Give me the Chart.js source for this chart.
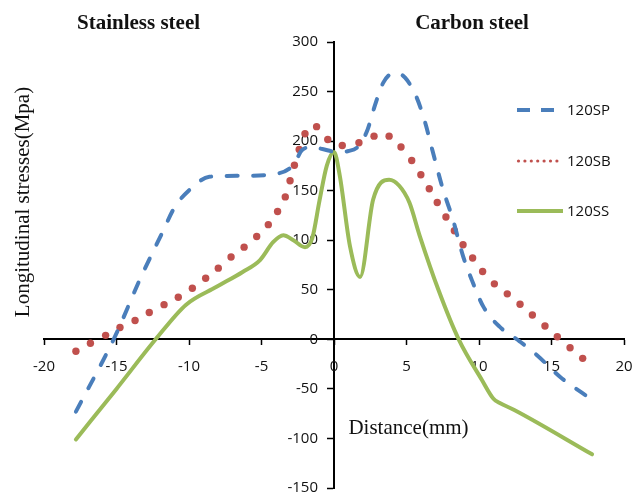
<!DOCTYPE html>
<html>
<head>
<meta charset="utf-8">
<title>Longitudinal stresses</title>
<script src="https://cdn.jsdelivr.net/npm/chart.js@4.4.1/dist/chart.umd.min.js"></script>
<style>
  html, body { margin: 0; padding: 0; background: #ffffff; }
  canvas { display: block; }
</style>
</head>
<body>
<canvas id="chart" width="644" height="498"></canvas>
<script>
// Distance (mm) / longitudinal stress (MPa) pairs for each weld specimen
const spDistance = [-17.8, -15.1, -13.4, -11.8, -11.0, -9.8, -8.6, -6.5, -4.0, -2.8, -2.2, -1.5, -0.8, 0.2, 1.0, 1.7, 2.3, 2.8, 3.4, 4.2, 4.9, 5.7, 6.3, 6.8, 7.5, 8.2, 8.9, 9.5, 10.3, 11.4, 12.8, 14.0, 15.6, 17.8];
const spStress   = [-73, 3, 60, 109, 133, 153, 164, 165, 167, 176, 191, 194, 192, 189, 190, 195, 211, 235, 259, 269, 264, 244, 218, 190, 152, 121, 84, 60, 33, 13, -2, -16, -38, -61];

const sbDistance = [-17.8, -16.8, -15.75, -14.76, -13.72, -12.74, -11.72, -10.74, -9.77, -8.85, -7.98, -7.1, -6.2, -5.33, -4.53, -3.89, -3.36, -3.03, -2.73, -2.4, -2.0, -1.2, -0.43, 0.57, 1.72, 2.76, 3.8, 4.62, 5.36, 5.99, 6.57, 7.12, 7.72, 8.3, 8.9, 9.56, 10.25, 11.06, 11.95, 12.83, 13.68, 14.55, 15.4, 16.28, 17.15];
const sbStress   = [-12, -4, 4, 12, 19, 27, 35, 42.5, 51.6, 61.7, 71.8, 83, 93, 103.8, 115.7, 129, 143.7, 160, 175.7, 191.6, 207.5, 214.6, 201.7, 195.6, 198.4, 205, 205, 194, 180.5, 166, 152, 138, 123.5, 109.6, 95.4, 82, 68.4, 56, 45.9, 35.4, 24.6, 13.5, 2.6, -8.5, -19.2];

const ssDistance = [-17.8, -15.0, -12.3, -10.2, -8.1, -6.3, -5.1, -4.2, -3.5, -2.8, -2.0, -1.5, -1.0, -0.5, 0.0, 0.4, 1.1, 1.8, 2.7, 3.8, 4.5, 5.2, 5.9, 7.2, 8.6, 10.2, 11.0, 11.4, 12.4, 17.8];
const ssStress   = [-101, -50, 0, 35, 53, 68, 80, 98, 105, 100, 93, 102, 140, 175, 189, 165, 94, 63, 141, 161, 155, 138, 105, 50, 0, -41, -60, -64, -71, -116];

const seriesNames = ['120SP', '120SB', '120SS'];
const xTicks = { min: -20, max: 20, step: 5 };
const yTicks = { min: -150, max: 300, step: 50 };

const BLUE = '#4A7EBB';
const RED = '#C0504D';
const GREEN = '#9BBB59';

function pairs(xs, ys) {
  return xs.map((x, i) => ({ x: x, y: ys[i] }));
}

const TICK_FONT = '15px "Open Sans", "Liberation Sans", sans-serif';

// Tick labels sit beside the crossing axes, under the data lines
const tickLabels = {
  id: 'tickLabels',
  beforeDatasetsDraw(chart) {
    const ctx = chart.ctx;
    const xs = chart.scales.x;
    const ys = chart.scales.y;
    const xAxisY = ys.getPixelForValue(0);
    const yAxisX = xs.getPixelForValue(0);
    ctx.save();
    ctx.font = TICK_FONT;
    ctx.fillStyle = '#111111';
    ctx.textBaseline = 'middle';
    ctx.textAlign = 'center';
    xs.ticks.forEach(t => {
      ctx.fillText(String(t.value), xs.getPixelForValue(t.value), xAxisY + 27);
    });
    ctx.textAlign = 'right';
    ys.ticks.forEach(t => {
      ctx.fillText(String(t.value), yAxisX - 16, ys.getPixelForValue(t.value));
    });
    ctx.restore();
  }
};

// Headings, axis titles and the legend drawn on top of the plot
const annotations = {
  id: 'annotations',
  afterDraw(chart) {
    const ctx = chart.ctx;
    ctx.save();
    ctx.fillStyle = '#111111';
    ctx.textBaseline = 'alphabetic';
    ctx.textAlign = 'center';

    ctx.font = 'bold 21px "Liberation Serif", "Times New Roman", serif';
    ctx.fillText('Stainless steel', 138.5, 29);
    ctx.fillText('Carbon steel', 472, 29);

    ctx.font = '21px "Liberation Serif", "Times New Roman", serif';
    ctx.fillText('Distance(mm)', 408.5, 434);

    ctx.save();
    ctx.translate(29, 202);
    ctx.rotate(-Math.PI / 2);
    ctx.fillText('Longitudinal stresses(Mpa)', 0, 0);
    ctx.restore();

    // legend
    const ds = chart.data.datasets;
    const rows = [110, 161, 211];
    const x0 = 517;
    ctx.font = TICK_FONT;
    ctx.textAlign = 'left';
    ctx.textBaseline = 'middle';

    // dashed
    ctx.strokeStyle = ds[0].borderColor;
    ctx.lineWidth = 4;
    ctx.lineCap = 'butt';
    ctx.setLineDash([13, 11]);
    ctx.beginPath();
    ctx.moveTo(x0, rows[0]);
    ctx.lineTo(x0 + 38, rows[0]);
    ctx.stroke();
    ctx.setLineDash([]);

    // dotted
    ctx.fillStyle = ds[1].pointBackgroundColor;
    for (let i = 0; i < 7; i++) {
      ctx.beginPath();
      ctx.arc(x0 + 1.5 + i * 6.4, rows[1], 1.6, 0, Math.PI * 2);
      ctx.fill();
    }

    // solid
    ctx.strokeStyle = ds[2].borderColor;
    ctx.beginPath();
    ctx.moveTo(x0, rows[2]);
    ctx.lineTo(x0 + 46, rows[2]);
    ctx.stroke();

    ctx.fillStyle = '#111111';
    ds.forEach((d, i) => ctx.fillText(d.label, 567, rows[i] + 1));
    ctx.restore();
  }
};

new Chart(document.getElementById('chart'), {
  type: 'line',
  data: {
    datasets: [
      {
        label: seriesNames[0],
        data: pairs(spDistance, spStress),
        borderColor: BLUE,
        borderWidth: 4,
        borderDash: [11, 15.5],
        borderCapStyle: 'round',
        cubicInterpolationMode: 'monotone',
        pointRadius: 0,
        fill: false
      },
      {
        label: seriesNames[1],
        data: pairs(sbDistance, sbStress),
        showLine: false,
        pointRadius: 3.7,
        pointBorderWidth: 0,
        pointBackgroundColor: RED,
        borderColor: RED,
        fill: false
      },
      {
        label: seriesNames[2],
        data: pairs(ssDistance, ssStress),
        borderColor: GREEN,
        borderWidth: 4,
        borderCapStyle: 'round',
        cubicInterpolationMode: 'monotone',
        pointRadius: 0,
        fill: false
      }
    ]
  },
  options: {
    responsive: false,
    animation: false,
    devicePixelRatio: 1,
    layout: { padding: { left: 44, right: 20, top: 42, bottom: 10 } },
    plugins: {
      legend: { display: false },
      tooltip: { enabled: false },
      title: { display: false }
    },
    scales: {
      x: {
        type: 'linear',
        position: { y: 0 },
        min: xTicks.min,
        max: xTicks.max,
        ticks: { stepSize: xTicks.step, display: false, autoSkip: false },
        grid: { drawOnChartArea: false, drawTicks: true, tickLength: 5, tickColor: '#000000', tickWidth: 1.5 },
        border: { color: '#000000', width: 2 }
      },
      y: {
        type: 'linear',
        position: { x: 0 },
        min: yTicks.min,
        max: yTicks.max,
        ticks: { stepSize: yTicks.step, display: false, autoSkip: false },
        grid: { drawOnChartArea: false, drawTicks: true, tickLength: 6, tickColor: '#000000', tickWidth: 1.5 },
        border: { color: '#000000', width: 2 }
      }
    }
  },
  plugins: [tickLabels, annotations]
});
</script>
</body>
</html>
